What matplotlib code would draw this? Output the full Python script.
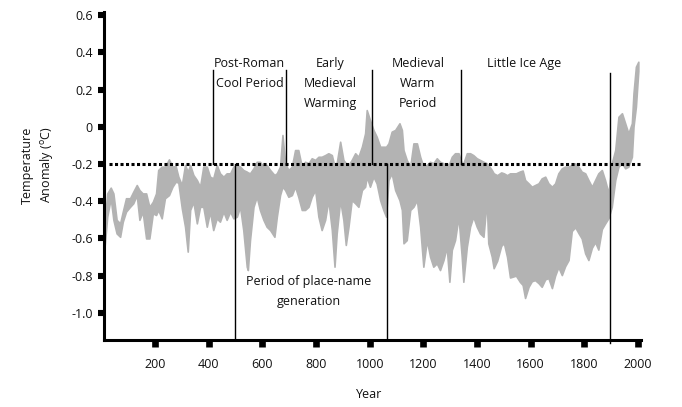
import matplotlib
matplotlib.use("Agg")
import matplotlib.pyplot as plt

plt.rcParams['font.family'] = ['Open Sans', 'DejaVu Sans']
plt.rcParams['mathtext.fontset'] = 'custom'
plt.rcParams['mathtext.rm'] = 'Open Sans'

# ---- data (year, upper envelope, lower envelope) ----
years = [10, 22, 35, 45, 57, 70, 80, 92, 107, 119, 132, 142, 154, 167, 179, 192, 204, 212, 225, 237,
         252, 265, 277, 287, 300, 312, 322, 331, 343, 356, 368, 380, 393, 405, 417, 430, 442, 455, 467, 480,
         492, 505, 517, 529, 542, 546, 554, 567, 579, 591, 604, 616, 629, 645, 654, 666, 675, 685, 697, 710,
         722, 734, 747, 759, 772, 784, 797, 809, 821, 834, 846, 859, 869, 877, 890, 902, 911, 921, 933, 946,
         958, 971, 983, 989, 1001, 1014, 1026, 1039, 1051, 1061, 1070, 1082, 1095, 1111, 1120, 1126, 1138, 1151, 1163, 1176,
         1188, 1200, 1213, 1225, 1237, 1250, 1262, 1275, 1287, 1297, 1306, 1318, 1331, 1343, 1349, 1362, 1374, 1386, 1399, 1411,
         1424, 1436, 1442, 1455, 1462, 1475, 1490, 1500, 1512, 1523, 1545, 1560, 1570, 1579, 1592, 1604, 1616, 1629, 1641, 1654,
         1666, 1679, 1691, 1703, 1716, 1728, 1741, 1753, 1766, 1778, 1790, 1803, 1815, 1828, 1840, 1852, 1865, 1877, 1890, 1902,
         1915, 1927, 1940, 1952, 1964, 1977, 1983, 1992, 2001]
upper = [-0.56, -0.358, -0.327, -0.358, -0.50, -0.519, -0.456, -0.384, -0.384, -0.349, -0.313, -0.34, -0.358, -0.358, -0.43, -0.403, -0.358, -0.232, -0.214, -0.214,
         -0.175, -0.214, -0.211, -0.268, -0.313, -0.205, -0.241, -0.205, -0.259, -0.286, -0.322, -0.214, -0.214, -0.268, -0.277, -0.205, -0.25, -0.268, -0.25, -0.25,
         -0.214, -0.205, -0.214, -0.232, -0.241, -0.245, -0.25, -0.223, -0.188, -0.188, -0.214, -0.205, -0.232, -0.259, -0.25, -0.214, -0.044, -0.196, -0.232, -0.214,
         -0.125, -0.125, -0.214, -0.188, -0.196, -0.169, -0.178, -0.161, -0.161, -0.152, -0.142, -0.152, -0.214, -0.196, -0.08, -0.178, -0.196, -0.205, -0.178, -0.142,
         -0.161, -0.107, -0.035, 0.09, 0.037, -0.017, -0.053, -0.107, -0.107, -0.107, -0.089, -0.026, -0.017, 0.019, -0.017, -0.125, -0.178, -0.214, -0.089, -0.089,
         -0.161, -0.214, -0.205, -0.188, -0.196, -0.169, -0.188, -0.196, -0.205, -0.196, -0.161, -0.142, -0.142, -0.196, -0.196, -0.142, -0.142, -0.152, -0.169, -0.178,
         -0.188, -0.196, -0.205, -0.232, -0.25, -0.26, -0.245, -0.25, -0.26, -0.25, -0.25, -0.24, -0.235, -0.286, -0.304, -0.322, -0.313, -0.304, -0.277, -0.268,
         -0.304, -0.322, -0.304, -0.25, -0.223, -0.214, -0.214, -0.205, -0.196, -0.214, -0.241, -0.25, -0.286, -0.322, -0.286, -0.25, -0.232, -0.286, -0.358, -0.196,
         -0.125, 0.054, 0.073, 0.019, -0.035, 0.019, 0.18, 0.323, 0.35]
lower = [-0.68, -0.483, -0.384, -0.50, -0.573, -0.591, -0.51, -0.456, -0.43, -0.411, -0.367, -0.50, -0.456, -0.60, -0.60, -0.465, -0.474, -0.447, -0.492, -0.384,
         -0.367, -0.322, -0.295, -0.30, -0.438, -0.537, -0.671, -0.447, -0.403, -0.519, -0.43, -0.43, -0.537, -0.456, -0.555, -0.492, -0.51, -0.456, -0.50, -0.456,
         -0.492, -0.483, -0.43, -0.555, -0.752, -0.77, -0.609, -0.43, -0.376, -0.447, -0.50, -0.537, -0.555, -0.591, -0.483, -0.367, -0.322, -0.34, -0.376, -0.367,
         -0.322, -0.376, -0.447, -0.447, -0.43, -0.376, -0.34, -0.483, -0.555, -0.50, -0.394, -0.555, -0.752, -0.573, -0.394, -0.50, -0.635, -0.537, -0.394, -0.411,
         -0.43, -0.34, -0.322, -0.268, -0.322, -0.268, -0.304, -0.394, -0.447, -0.483, -0.286, -0.25, -0.34, -0.394, -0.447, -0.626, -0.609, -0.447, -0.43, -0.394,
         -0.537, -0.752, -0.609, -0.698, -0.752, -0.734, -0.77, -0.716, -0.645, -0.833, -0.662, -0.609, -0.483, -0.698, -0.833, -0.645, -0.537, -0.483, -0.537, -0.573,
         -0.591, -0.394, -0.626, -0.698, -0.76, -0.72, -0.64, -0.625, -0.70, -0.81, -0.80, -0.834, -0.85, -0.92, -0.86, -0.83, -0.824, -0.84, -0.86, -0.82,
         -0.813, -0.867, -0.80, -0.754, -0.797, -0.75, -0.716, -0.56, -0.54, -0.571, -0.60, -0.68, -0.716, -0.65, -0.62, -0.66, -0.55, -0.52, -0.49, -0.43,
         -0.286, -0.214, -0.196, -0.223, -0.214, -0.161, 0.0, 0.108, 0.30]

period_bounds = [416, 688, 1010, 1340, 1895]
placename_bounds = [500, 1066]
baseline = -0.2

yticks = [0.6, 0.4, 0.2, 0.0, -0.2, -0.4, -0.6, -0.8, -1.0]
ytick_labels = ['0.6', '0.4', '0.2', '0', '-0.2', '-0.4', '-0.6', '-0.8', '-1.0']
xticks = [200, 400, 600, 800, 1000, 1200, 1400, 1600, 1800, 2000]
xtick_labels = ['200', '400', '600', '800', '1000', '1200', '1400', '1600', '1800', '2000']

# ---- figure ----
W, H = 682, 407
fig = plt.figure(figsize=(W / 100, H / 100), dpi=100)
ax = fig.add_axes([104 / W, 1 - 340 / H, (641 - 104) / W, (340 - 11.5) / H])
ax.set_xlim(10, 2011)
ax.set_ylim(-1.146, 0.62)

ax.fill_between(years, lower, upper, color='#b3b3b3', edgecolor='#b3b3b3', linewidth=1.2, zorder=1)

# dotted baseline
ax.plot([29, 2008], [baseline, baseline], color='black', lw=2.2,
        linestyle=(0, (1, 0.8)), zorder=4, solid_capstyle='butt')

# period boundary lines
top_val = 0.305
for i, b in enumerate(period_bounds):
    if i == len(period_bounds) - 1:
        ax.plot([b, b], [0.289, -1.16], color='black', lw=1.0, zorder=3, clip_on=False)
    else:
        ax.plot([b, b], [top_val, baseline], color='black', lw=1.0, zorder=3)
for b in placename_bounds:
    ax.plot([b, b], [baseline, -1.146], color='black', lw=1.0, zorder=3)

fs = 9
def label_lines(x, lines, y_first, step=0.1075):
    for k, t in enumerate(lines):
        ax.text(x, y_first - k * step, t, ha='center', va='center', fontsize=fs, color='#111111')

label_lines(552, ['Post-Roman', 'Cool Period'], 0.343)
label_lines(852, ['Early', 'Medieval', 'Warming'], 0.343)
label_lines(1180, ['Medieval', 'Warm', 'Period'], 0.343)
label_lines(1576, ['Little Ice Age'], 0.343)
label_lines(774, ['Period of place-name', 'generation'], -0.834)

# axes styling
for s in ['top', 'right']:
    ax.spines[s].set_visible(False)
for s in ['left', 'bottom']:
    ax.spines[s].set_linewidth(2.2)
    ax.spines[s].set_color('black')

ax.set_yticks(yticks)
ax.set_yticklabels(ytick_labels)
ax.set_xticks(xticks)
ax.set_xticklabels(xtick_labels)
ax.tick_params(axis='y', direction='out', length=4.6, width=4.4, pad=3.5, labelsize=fs, colors='black')
ax.tick_params(axis='x', direction='out', length=5.0, width=4.8, pad=8, labelsize=fs, colors='black')
for lbl in ax.get_xticklabels() + ax.get_yticklabels():
    lbl.set_color('#111111')

fig.text(27 / W, 1 - 165 / H, 'Temperature', rotation=90, ha='center', va='center', fontsize=fs, color='#111111')
fig.text(47 / W, 1 - 165 / H, r'Anomaly ($^{\mathrm{o}}$C)', rotation=90, ha='center', va='center', fontsize=fs, color='#111111')
fig.text(369 / W, 1 - 394 / H, 'Year', ha='center', va='center', fontsize=fs, color='#111111')

fig.savefig('out.png', dpi=100)
